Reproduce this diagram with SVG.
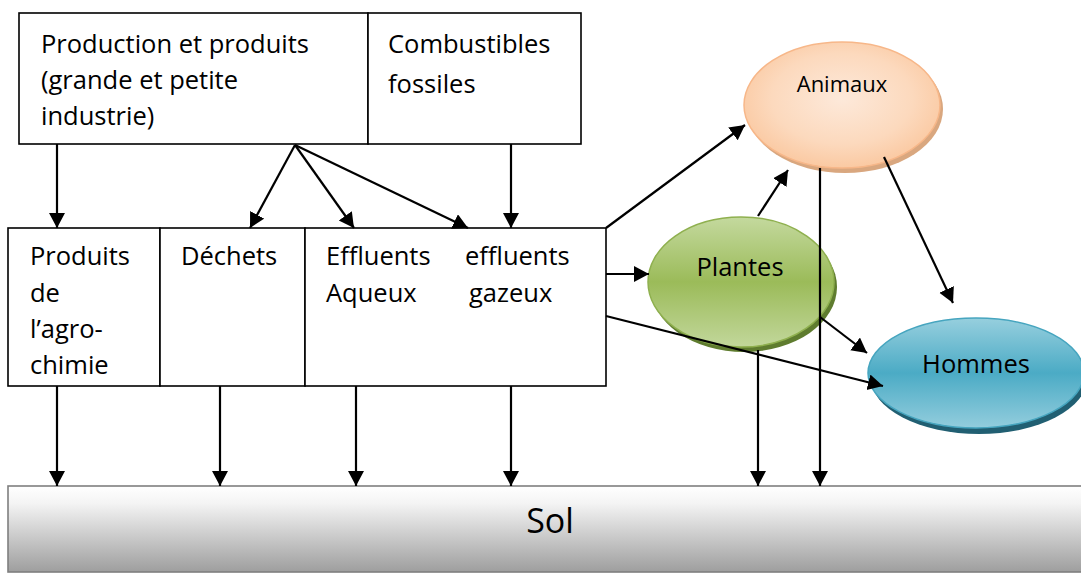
<svg xmlns="http://www.w3.org/2000/svg" width="1081" height="574" viewBox="0 0 1081 574">
  <style>
    .box { fill: #ffffff; stroke: #000000; stroke-width: 1.6; }
    .t { font-family: "Open Sans", "Liberation Sans", sans-serif; font-size: 25.5px; fill: #000000; }
    .tc { text-anchor: middle; }
    .link { fill: none; stroke: #000000; stroke-width: 2.2; marker-end: url(#arrow); }
  </style>
  <defs>
    <marker id="arrow" markerUnits="userSpaceOnUse" markerWidth="17" markerHeight="17" refX="15" refY="8" orient="auto">
      <path d="M0,0 L15,8 L0,16 z" fill="#000000"/>
    </marker>
    <linearGradient id="solFill" x1="0" y1="0" x2="0" y2="1">
      <stop offset="0" stop-color="#ffffff"/>
      <stop offset="0.2" stop-color="#f4f4f4"/>
      <stop offset="1" stop-color="#9e9e9e"/>
    </linearGradient>
    <linearGradient id="plantFill" x1="0" y1="0" x2="0" y2="1">
      <stop offset="0" stop-color="#c4d99e"/>
      <stop offset="0.5" stop-color="#9bbb59"/>
      <stop offset="1" stop-color="#c2d79b"/>
    </linearGradient>
    <linearGradient id="humanFill" x1="0" y1="0" x2="0" y2="1">
      <stop offset="0" stop-color="#97cfde"/>
      <stop offset="0.5" stop-color="#4babc5"/>
      <stop offset="1" stop-color="#93cddd"/>
    </linearGradient>
    <radialGradient id="animalFill" cx="0.5" cy="0.45" r="0.6">
      <stop offset="0" stop-color="#fde9da"/>
      <stop offset="0.6" stop-color="#fcd9bd"/>
      <stop offset="1" stop-color="#fac59b"/>
    </radialGradient>
  </defs>

  <!-- Sol (ground) -->
  <g id="sol">
    <rect x="8" y="486" width="1080" height="86" fill="url(#solFill)" stroke="#7f7f7f" stroke-width="1.6"/>
    <text class="t tc" x="550" y="533" style="font-size:34px">Sol</text>
  </g>

  <!-- Sources -->
  <g id="production">
    <rect class="box" x="19" y="13" width="349" height="131"/>
    <text class="t" x="41" y="53">Production et produits</text>
    <text class="t" x="41" y="89">(grande et petite</text>
    <text class="t" x="41" y="125">industrie)</text>
  </g>
  <g id="combustibles">
    <rect class="box" x="368" y="13" width="213" height="131"/>
    <text class="t" x="388" y="53">Combustibles</text>
    <text class="t" x="388" y="93">fossiles</text>
  </g>

  <!-- Pollutant categories -->
  <g id="agrochimie">
    <rect class="box" x="8" y="228" width="152" height="158"/>
    <text class="t" x="30" y="265">Produits</text>
    <text class="t" x="30" y="302">de</text>
    <text class="t" x="30" y="338">l’agro-</text>
    <text class="t" x="30" y="374">chimie</text>
  </g>
  <g id="dechets">
    <rect class="box" x="160" y="228" width="145" height="158"/>
    <text class="t" x="181" y="265">Déchets</text>
  </g>
  <g id="effluents">
    <rect class="box" x="305" y="228" width="301" height="158"/>
    <text class="t" x="326" y="265">Effluents</text>
    <text class="t" x="326" y="302">Aqueux</text>
    <text class="t" x="465" y="265">effluents</text>
    <text class="t" x="469" y="302">gazeux</text>
  </g>

  <!-- Living receptors -->
  <g id="animaux">
    <ellipse cx="845" cy="109" rx="98" ry="64" fill="#d9a77f"/>
    <ellipse cx="842" cy="105" rx="98" ry="63" fill="url(#animalFill)" stroke="#f7b789" stroke-width="1.5"/>
    <text class="t tc" x="842" y="92" style="font-size:22px">Animaux</text>
  </g>
  <g id="plantes">
    <ellipse cx="744" cy="287" rx="93" ry="65" fill="#5f7c2f"/>
    <ellipse cx="741" cy="282" rx="93" ry="65" fill="url(#plantFill)" stroke="#8fb04f" stroke-width="1.5"/>
    <text class="t tc" x="740" y="276">Plantes</text>
  </g>
  <g id="hommes">
    <ellipse cx="979" cy="378" rx="108" ry="56" fill="#215f72"/>
    <ellipse cx="976" cy="373" rx="108" ry="55" fill="url(#humanFill)" stroke="#46a5bf" stroke-width="1.5"/>
    <text class="t tc" x="976" y="373">Hommes</text>
  </g>

  <!-- Connectors -->
  <g id="connectors">
    <line class="link" x1="57" y1="144" x2="57" y2="228"/>
    <line class="link" x1="295" y1="145" x2="250" y2="228"/>
    <line class="link" x1="295" y1="145" x2="354" y2="228"/>
    <line class="link" x1="295" y1="145" x2="468" y2="228"/>
    <line class="link" x1="511" y1="144" x2="511" y2="228"/>

    <line class="link" x1="57" y1="386" x2="57" y2="486"/>
    <line class="link" x1="220" y1="386" x2="220" y2="486"/>
    <line class="link" x1="356" y1="386" x2="356" y2="486"/>
    <line class="link" x1="511" y1="386" x2="511" y2="486"/>

    <line class="link" x1="606" y1="228" x2="745" y2="125"/>
    <line class="link" x1="606" y1="274" x2="649" y2="274"/>
    <line class="link" x1="606" y1="316" x2="883" y2="386"/>

    <line class="link" x1="758" y1="216" x2="788" y2="170"/>
    <line class="link" x1="884" y1="157" x2="953" y2="303"/>
    <line class="link" x1="820" y1="317" x2="867" y2="353"/>

    <line class="link" x1="820" y1="168" x2="820" y2="486"/>
    <line class="link" x1="758" y1="350" x2="758" y2="486"/>
  </g>
</svg>
